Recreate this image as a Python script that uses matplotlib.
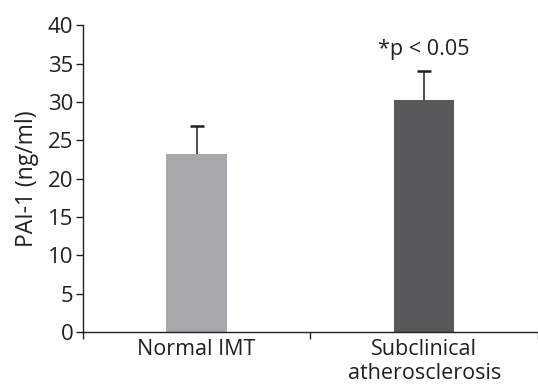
import numpy as np
import matplotlib.pyplot as plt

groups = ["Normal IMT", "Subclinical\natherosclerosis"]
pai1 = [23.2, 30.3]
sd_upper = [3.6, 3.7]
bar_colors = ["#a7a8ac", "#58595b"]
yticks = [0, 5, 10, 15, 20, 25, 30, 35, 40]

plt.rcParams['font.family'] = ['Open Sans', 'DejaVu Sans']

fig = plt.figure(figsize=(5.38, 3.87), dpi=100)
ax = fig.add_axes([0.154, 0.142, 0.846, 0.793])

x = np.arange(len(groups))
ax.bar(x, pai1, width=0.265, color=bar_colors)

# upper error bars only (no cap at bar top)
tops = np.array(pai1) + np.array(sd_upper)
ax.vlines(x, pai1, tops, color="#231f20", linewidth=1.1)
ax.plot(x, tops, linestyle="none", marker="_", markersize=9.5,
        markeredgewidth=1.8, color="#231f20")

# significance note above second bar
ax.text(1, 36.8, "*p < 0.05", ha="center", va="center", fontsize=15.5, color="#231f20")

ax.set_xlim(-0.5, 1.5)
ax.set_ylim(0, 40)
ax.set_yticks(yticks)
ax.set_xticks(x)
ax.set_xticklabels(groups, fontsize=15.5, color="#231f20", linespacing=1.2)
ax.set_xticks([-0.5, 0.5, 1.5], minor=True)
ax.tick_params(axis="x", which="major", length=0, pad=5)
ax.tick_params(axis="x", which="minor", length=5, width=1, color="#231f20")
ax.tick_params(axis="y", length=5, width=1, color="#231f20", labelsize=16,
               labelcolor="#231f20", pad=2)
ax.set_ylabel("PAI-1 (ng/ml)", fontsize=16.5, color="#231f20", labelpad=6)

for s in ["top", "right"]:
    ax.spines[s].set_visible(False)
for s in ["left", "bottom"]:
    ax.spines[s].set_color("#231f20")
    ax.spines[s].set_linewidth(1)

fig.savefig("out.png", dpi=100)
